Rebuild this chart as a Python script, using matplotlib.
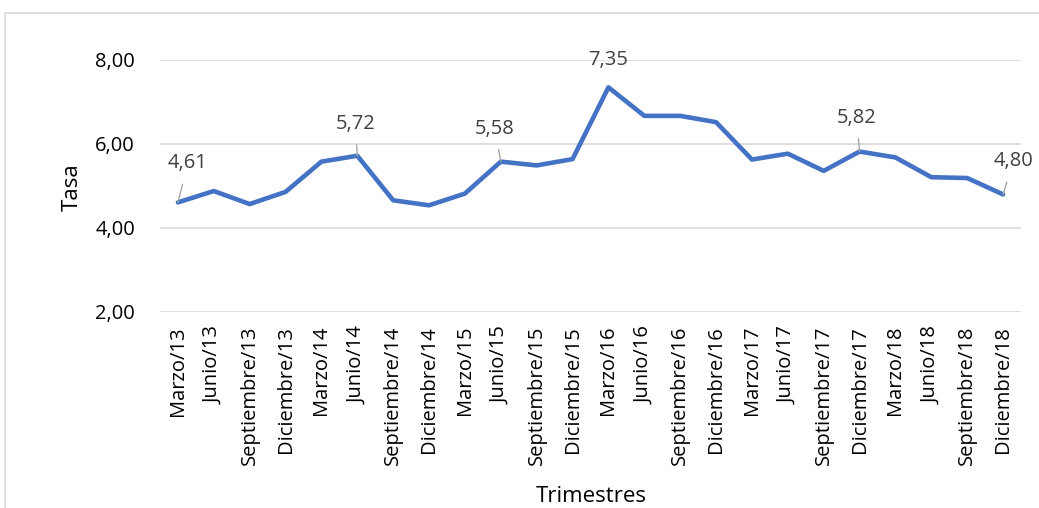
import matplotlib
matplotlib.use("Agg")
import matplotlib.pyplot as plt
from matplotlib.patches import Rectangle

categories = ["Marzo/13", "Junio/13", "Septiembre/13", "Diciembre/13",
              "Marzo/14", "Junio/14", "Septiembre/14", "Diciembre/14",
              "Marzo/15", "Junio/15", "Septiembre/15", "Diciembre/15",
              "Marzo/16", "Junio/16", "Septiembre/16", "Diciembre/16",
              "Marzo/17", "Junio/17", "Septiembre/17", "Diciembre/17",
              "Marzo/18", "Junio/18", "Septiembre/18", "Diciembre/18"]
tasa = [4.61, 4.88, 4.57, 4.86, 5.58, 5.72, 4.66, 4.54, 4.82, 5.58, 5.49, 5.64,
        7.35, 6.67, 6.67, 6.52, 5.63, 5.77, 5.36, 5.82, 5.68, 5.21, 5.19, 4.80]
yticks = [2, 4, 6, 8]
labeled_idx = [0, 5, 9, 12, 19, 23]
# label offsets in pixels (dx, dy) and whether to draw a leader line
label_offsets = {0: (10, 39, True), 5: (-2, 32, True), 9: (-6, 33, True),
                 12: (0, 27, False), 19: (-3, 34, True), 23: (10, 33, True)}

plt.rcParams['font.family'] = ['Open Sans', 'DejaVu Sans']
FS = 14.5

fig = plt.figure(figsize=(10.39, 5.08), dpi=100)
ax = fig.add_axes([160/1039, 1-312/508, (1021-160)/1039, (312-60)/508])

x = list(range(len(categories)))
ax.plot(x, tasa, color='#4472C4', lw=3.3, solid_joinstyle='round', solid_capstyle='round', zorder=3)

ax.set_xlim(-0.5, len(categories)-0.5)
ax.set_ylim(2, 8)
ax.set_yticks(yticks)
ax.set_yticklabels([f"{v:.2f}".replace('.', ',') for v in yticks], fontsize=FS, color='#000000')
ax.set_xticks(x)
ax.set_xticklabels(categories, rotation=90, fontsize=FS, color='#000000')
ax.tick_params(axis='both', length=0)
ax.tick_params(axis='y', pad=18)
ax.tick_params(axis='x', pad=10)
ax.grid(axis='y', color='#D9D9D9', lw=1.2)
ax.set_axisbelow(True)
for s in ax.spines.values():
    s.set_visible(False)

px2pt = 72/100
for i in labeled_idx:
    dx, dy, leader = label_offsets[i]
    txt = f"{tasa[i]:.2f}".replace('.', ',')
    ax.annotate(txt, (x[i], tasa[i]), xytext=(dx*px2pt, dy*px2pt), textcoords='offset points',
                ha='center', va='center', fontsize=FS, color='#404040',
                arrowprops=dict(arrowstyle='-', color='#A6A6A6', lw=1, shrinkA=6, shrinkB=0) if leader else None,
                zorder=4)

fig.text(72/1039, 1-187/508, "Tasa", rotation=90, ha='center', va='center', fontsize=16)
fig.text(591/1039, 1-497/508, "Trimestres", ha='center', va='center', fontsize=16)

fig.patches.append(Rectangle((5/1039, -0.1), 1.2, 1-13.5/508+0.1, transform=fig.transFigure,
                             fill=False, edgecolor='#D9D9D9', lw=1.2))

fig.savefig("out.png", dpi=100)
